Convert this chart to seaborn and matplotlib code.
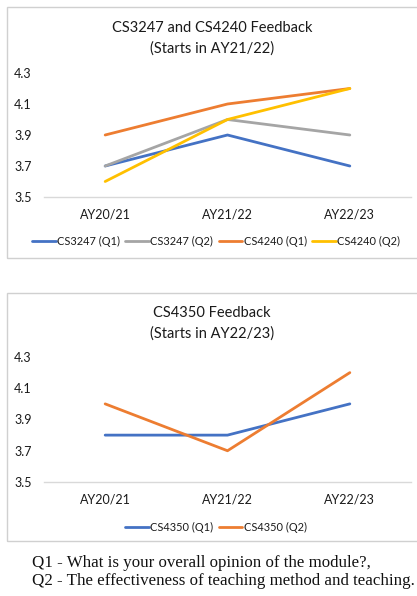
import matplotlib
matplotlib.use("Agg")
import matplotlib.pyplot as plt
from matplotlib.patches import Rectangle
import pandas as pd
import seaborn as sns

# Academic years on the x axis
years = ["AY20/21", "AY21/22", "AY22/23"]
yticks = [3.5, 3.7, 3.9, 4.1, 4.3]

# Chart 1: CS3247 and CS4240 feedback scores
cs3247_q1 = [3.7, 3.9, 3.7]
cs3247_q2 = [3.7, 4.0, 3.9]
cs4240_q1 = [3.9, 4.1, 4.2]
cs4240_q2 = [3.6, 4.0, 4.2]

# Chart 2: CS4350 feedback scores
cs4350_q1 = [3.8, 3.8, 4.0]
cs4350_q2 = [4.0, 3.7, 4.2]

BLUE, GRAY, ORANGE, YELLOW = "#4472C4", "#A5A5A5", "#ED7D31", "#FFC000"

sns.set_theme(style="white")
plt.rcParams["font.family"] = ["Lato", "DejaVu Sans"]

W, H = 417, 596
fig = plt.figure(figsize=(W / 100, H / 100), dpi=100)


def long_form(series):
    rows = []
    for name, vals in series.items():
        for i, v in enumerate(vals):
            rows.append({"year": i, "score": v, "series": name})
    return pd.DataFrame(rows)


def panel(box, ax_px, title, series, palette, legend_y, ncol):
    # outer chart frame
    bx0, by0, bx1, by1 = box
    fig.patches.append(Rectangle((bx0 / W, 1 - by1 / H), (bx1 - bx0) / W, (by1 - by0) / H,
                                 transform=fig.transFigure, fill=False,
                                 edgecolor="#D0D0D0", linewidth=1.0))
    x0, ytop, x1, ybot = ax_px
    ax = fig.add_axes([x0 / W, 1 - ybot / H, (x1 - x0) / W, (ybot - ytop) / H])
    df = long_form(series)
    sns.lineplot(data=df, x="year", y="score", hue="series", palette=palette,
                 linewidth=2.0, ax=ax, legend=False, sort=False)
    ax.set_xlim(-0.5, 2.5)
    ax.set_ylim(3.5, 4.3)
    ax.set_yticks(yticks)
    ax.set_yticklabels([f"{t:.1f}" for t in yticks])
    ax.set_xticks(range(len(years)))
    ax.set_xticklabels(years)
    ax.set_xlabel("")
    ax.set_ylabel("")
    for s in ["top", "right", "left"]:
        ax.spines[s].set_visible(False)
    ax.spines["bottom"].set_color("#D9D9D9")
    ax.spines["bottom"].set_linewidth(1.0)
    ax.tick_params(axis="both", length=0, labelsize=9, colors="#1a1a1a")
    ax.tick_params(axis="y", pad=9)
    ax.tick_params(axis="x", pad=8)
    for ln in ax.lines:
        ln.set_clip_on(False)
    cx = (bx0 + 417) / 2
    fig.text(cx / W, 1 - (title[1]) / H, title[0], ha="center", va="center",
             fontsize=10.5, color="#1a1a1a", linespacing=1.55)
    handles = [plt.Line2D([], [], color=palette[n], linewidth=2.0) for n in series]
    fig.legend(handles, list(series.keys()), loc="center",
               bbox_to_anchor=((cx + 4) / W, 1 - legend_y / H),
               ncol=ncol, frameon=False, fontsize=7.9, handlelength=2.15,
               handletextpad=0.12, columnspacing=0.5, borderpad=0,
               labelcolor="#1a1a1a")
    return ax


s1 = {"CS3247 (Q1)": cs3247_q1, "CS3247 (Q2)": cs3247_q2,
      "CS4240 (Q1)": cs4240_q1, "CS4240 (Q2)": cs4240_q2}
p1 = {"CS3247 (Q1)": BLUE, "CS3247 (Q2)": GRAY, "CS4240 (Q1)": ORANGE, "CS4240 (Q2)": YELLOW}
panel((7, 7, 422, 258), (44, 73, 411, 197),
      ("CS3247 and CS4240 Feedback\n(Starts in AY21/22)", 38.5), s1, p1, 241, 4)

s2 = {"CS4350 (Q1)": cs4350_q1, "CS4350 (Q2)": cs4350_q2}
p2 = {"CS4350 (Q1)": BLUE, "CS4350 (Q2)": ORANGE}
panel((7, 293, 422, 541), (44, 357, 411, 482),
      ("CS4350 Feedback\n(Starts in AY22/23)", 323.5), s2, p2, 527, 2)

footer = ("Q1 - What is your overall opinion of the module?,\n"
          "Q2 - The effectiveness of teaching method and teaching.")
fig.text(32 / W, 1 - 572 / H, footer, ha="left", va="center", fontsize=12.2,
         family=["Liberation Serif", "DejaVu Serif"], color="#111111", linespacing=1.15)

fig.savefig("out.png", dpi=100)
